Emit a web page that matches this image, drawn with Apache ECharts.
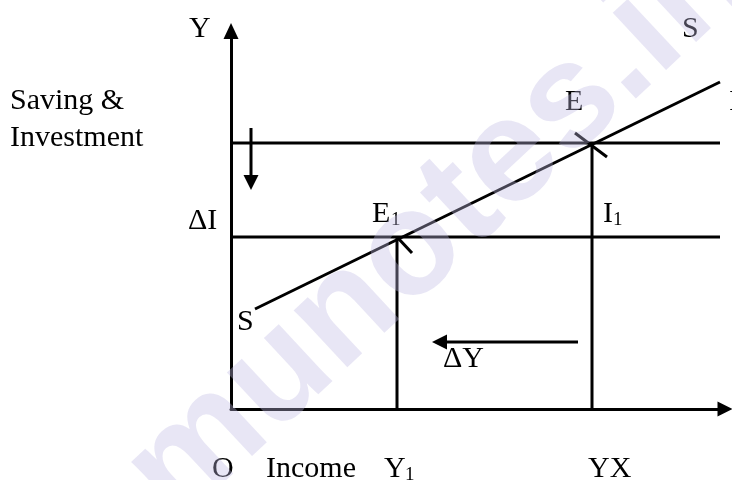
<!DOCTYPE html>
<html>
<head>
<meta charset="utf-8">
<script src="https://cdn.jsdelivr.net/npm/echarts@6/dist/echarts.min.js"></script>
<style>html,body{margin:0;padding:0;background:#fff}#c{width:732px;height:480px}</style>
</head>
<body>
<div id="c"></div>
<script>
// Data (chart units; origin O at bottom-left of axes)
const savingLine = [[4.8, 20], [97.8, 65.4]];
const investInitial = [[0, 53.2], [97.8, 53.2]];
const investNew = [[0, 34.4], [97.8, 34.4]];
const incomeYX = [[72.2, 0], [72.2, 53.2]];
const incomeY1 = [[33.2, 0], [33.2, 34.4]];
const tickE = [[68.8, 55.2], [75.2, 50.4]];
const tickE1 = [[33.2, 34.4], [36.2, 31.2]];
const arrowDeltaI = [[4, 56.2], [4, 45.3]];
const arrowDeltaY = [[69.4, 13.4], [41.7, 13.4]];

const serif = 'Liberation Serif, Times New Roman, serif';

function seg(data, arrowRotate) {
  const d = data.map((p, i) => {
    if (arrowRotate !== undefined && i === data.length - 1) {
      return { value: p, symbol: 'triangle', symbolSize: [15, 15], symbolRotate: arrowRotate };
    }
    return { value: p, symbol: 'none' };
  });
  return {
    type: 'line', data: d, silent: true, animation: false,
    lineStyle: { color: '#000', width: 3 }, itemStyle: { color: '#000' },
    showSymbol: true, z: 3
  };
}

function txt(text, x, y, size) {
  return {
    type: 'text', x: x, y: y, silent: true, z: 5,
    style: { text: text, font: (size || 30) + 'px ' + serif, fill: '#000', align: 'left', verticalAlign: 'middle' }
  };
}

const chart = echarts.init(document.getElementById('c'), null, { renderer: 'canvas' });
chart.setOption({
  backgroundColor: '#fff',
  animation: false,
  grid: { left: 231, right: 7, top: 31, bottom: 71 },
  xAxis: {
    type: 'value', min: 0, max: 98.8,
    axisLine: { show: true, lineStyle: { color: '#000', width: 3 }, symbol: ['none', 'triangle'], symbolSize: [15, 15] },
    axisTick: { show: false }, axisLabel: { show: false }, splitLine: { show: false }
  },
  yAxis: {
    type: 'value', min: 0, max: 75.6,
    axisLine: { show: true, lineStyle: { color: '#000', width: 3 }, symbol: ['none', 'triangle'], symbolSize: [15, 16] },
    axisTick: { show: false }, axisLabel: { show: false }, splitLine: { show: false }
  },
  series: [
    seg(investInitial), seg(investNew), seg(incomeYX), seg(incomeY1),
    seg(savingLine), seg(tickE), seg(tickE1),
    seg(arrowDeltaI, 180), seg(arrowDeltaY, 90)
  ],
  graphic: [
    txt('Y', 189, 29),
    txt('S', 682, 29),
    txt('E', 565, 102),
    txt('I', 729, 102),
    txt('Saving &', 10, 101),
    txt('Investment', 10, 138),
    txt('\u0394I', 188, 221),
    txt('E', 372, 214),
    txt('1', 391, 220, 19),
    txt('I', 603, 214),
    txt('1', 613, 220, 19),
    txt('S', 237, 322),
    txt('\u0394Y', 443, 359),
    txt('O', 212, 469),
    txt('Income', 266, 469),
    txt('Y', 384, 469),
    txt('1', 405, 475, 19),
    txt('YX', 588, 469),
    {
      type: 'text', x: 200, y: 550, rotation: 43 * Math.PI / 180, silent: true, z: 10,
      style: { text: 'munotes.in', font: 'bold 148px Liberation Sans, Arial, sans-serif', fill: 'rgba(190,185,228,0.36)', align: 'left', verticalAlign: 'bottom' }
    }
  ]
});
</script>
</body>
</html>
